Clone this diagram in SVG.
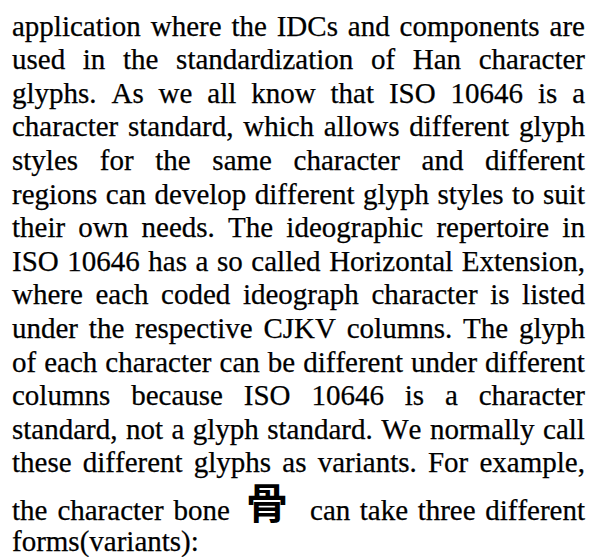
<svg xmlns="http://www.w3.org/2000/svg" width="591" height="557" viewBox="0 0 591 557">
  <style>
    .body { font-family: "Liberation Serif", "Times New Roman", serif; font-size: 29px; fill: #000; stroke: #000; stroke-width: 0.25px; font-kerning: none; }
    .han { font-family: "Noto Sans CJK SC", "Noto Sans CJK JP", sans-serif; font-size: 42px; font-weight: 700; fill: #000; }
  </style>
  <rect width="591" height="557" fill="#fff"/>
  <!-- justified paragraph: each line spans x=12 to x=585 -->
  <g id="paragraph">
    <text class="body" x="12" y="35.5" style="word-spacing:2.61px">application where the IDCs and components are</text>
    <text class="body" x="12" y="69.1" style="word-spacing:10.41px">used in the standardization of Han character</text>
    <text class="body" x="12" y="102.7" style="word-spacing:7.64px">glyphs. As we all know that ISO 10646 is a</text>
    <text class="body" x="12" y="136.3" style="word-spacing:2.5px">character standard, which allows different glyph</text>
    <text class="body" x="12" y="169.9" style="word-spacing:14.43px">styles for the same character and different</text>
    <text class="body" x="12" y="203.5" style="word-spacing:1.2px">regions can develop different glyph styles to suit</text>
    <text class="body" x="12" y="237.1" style="word-spacing:5.97px">their own needs. The ideographic repertoire in</text>
    <text class="body" x="12" y="270.7" style="word-spacing:1.31px">ISO 10646 has a so called Horizontal Extension,</text>
    <text class="body" x="12" y="304.3" style="word-spacing:5.31px">where each coded ideograph character is listed</text>
    <text class="body" x="12" y="337.9" style="word-spacing:3.55px">under the respective CJKV columns. The glyph</text>
    <text class="body" x="12" y="371.5" style="word-spacing:0.76px">of each character can be different under different</text>
    <text class="body" x="12" y="405.1" style="word-spacing:13.62px">columns because ISO 10646 is a character</text>
    <text class="body" x="12" y="438.7" style="word-spacing:1.2px">standard, not a glyph standard. We normally call</text>
    <text class="body" x="12" y="472.3" style="word-spacing:3.95px">these different glyphs as variants. For example,</text>
    <text class="body" x="12" y="520" style="word-spacing:2.7px">the character bone</text>
    <!-- inline Han character "bone" -->
    <text class="han" x="267" y="518.5" text-anchor="middle">骨</text>
    <text class="body" x="585" y="520" text-anchor="end" style="word-spacing:2.3px">can take three different</text>
    <text class="body" x="12" y="551">forms(variants):</text>
  </g>
</svg>
